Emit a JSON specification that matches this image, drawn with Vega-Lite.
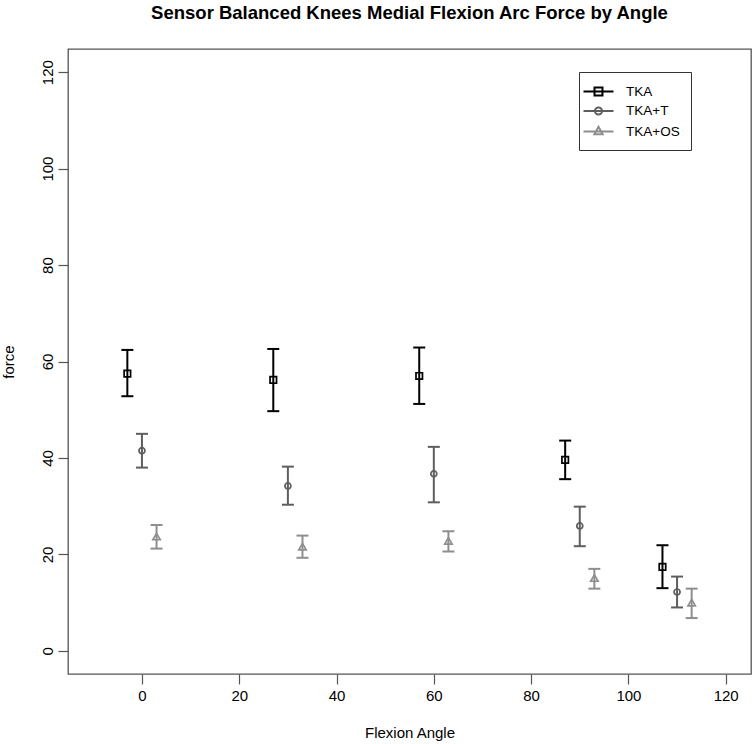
{
  "$schema": "https://vega.github.io/schema/vega-lite/v6.json",
  "width": 683,
  "height": 625,
  "autosize": {"type": "none"},
  "padding": {"left": 68, "top": 49, "right": 2, "bottom": 70},
  "background": "white",
  "title": {
    "text": "Sensor Balanced Knees Medial Flexion Arc Force by Angle",
    "font": "Liberation Sans",
    "fontSize": 18.5,
    "fontWeight": "bold",
    "color": "black",
    "anchor": "middle",
    "offset": 27
  },
  "config": {
    "view": {"stroke": "#555555", "strokeWidth": 1.3},
    "axis": {
      "domain": false,
      "grid": false,
      "tickColor": "#555555",
      "tickSize": 10,
      "tickWidth": 1.2,
      "labelFont": "Liberation Sans",
      "labelFontSize": 15,
      "labelColor": "black",
      "titleFont": "Liberation Sans",
      "titleFontSize": 15,
      "titleFontWeight": "normal",
      "titleColor": "black"
    }
  },
  "data": {
    "values": [
      {"group": "TKA", "angle": -3, "force": 57.5, "lo": 52.8, "hi": 62.4},
      {"group": "TKA", "angle": 27, "force": 56.2, "lo": 49.7, "hi": 62.6},
      {"group": "TKA", "angle": 57, "force": 57.0, "lo": 51.2, "hi": 62.9},
      {"group": "TKA", "angle": 87, "force": 39.6, "lo": 35.6, "hi": 43.6},
      {"group": "TKA", "angle": 107, "force": 17.4, "lo": 13.0, "hi": 21.9},
      {"group": "TKA+T", "angle": 0, "force": 41.5, "lo": 38.0, "hi": 45.0},
      {"group": "TKA+T", "angle": 30, "force": 34.2, "lo": 30.3, "hi": 38.2},
      {"group": "TKA+T", "angle": 60, "force": 36.7, "lo": 30.8, "hi": 42.3},
      {"group": "TKA+T", "angle": 90, "force": 25.9, "lo": 21.7, "hi": 29.9},
      {"group": "TKA+T", "angle": 110, "force": 12.2, "lo": 9.0, "hi": 15.4},
      {"group": "TKA+OS", "angle": 3, "force": 23.7, "lo": 21.2, "hi": 26.1},
      {"group": "TKA+OS", "angle": 33, "force": 21.6, "lo": 19.3, "hi": 23.9},
      {"group": "TKA+OS", "angle": 63, "force": 22.8, "lo": 20.6, "hi": 24.8},
      {"group": "TKA+OS", "angle": 93, "force": 15.1, "lo": 12.9, "hi": 17.0},
      {"group": "TKA+OS", "angle": 113, "force": 10.0, "lo": 6.8, "hi": 12.9}
    ]
  },
  "encoding": {
    "x": {
      "field": "angle",
      "type": "quantitative",
      "scale": {"domain": [-15.2, 125.2], "nice": false, "zero": false},
      "axis": {"values": [0, 20, 40, 60, 80, 100, 120], "title": "Flexion Angle", "labelPadding": 4.5, "titlePadding": 22, "labelFlush": false}
    },
    "stroke": {
      "field": "group",
      "type": "nominal",
      "scale": {"domain": ["TKA", "TKA+T", "TKA+OS"], "range": ["#000000", "#5e5e5e", "#8e8e8e"]},
      "legend": {
        "title": null,
        "orient": "none",
        "legendX": 511,
        "legendY": 23,
        "padding": 11,
        "strokeColor": "#333333",
        "fillColor": "white",
        "labelFont": "Liberation Sans",
        "labelFontSize": 13.5,
        "labelColor": "black",
        "labelOffset": 19,
        "rowPadding": 2.5,
        "symbolSize": 225,
        "symbolStrokeWidth": 2,
        "encode": {
          "symbols": {
            "update": {
              "shape": {"signal": "datum.value === 'TKA' ? 'M-2,0H2M-0.53,-0.53H0.53V0.53H-0.53Z' : datum.value === 'TKA+T' ? 'M-2,0H2M-0.47,0A0.47,0.47,0,1,1,0.47,0A0.47,0.47,0,1,1,-0.47,0' : 'M-2,0H2M0,-0.62L0.55,0.36L-0.55,0.36Z'"},
              "fill": {"value": "transparent"},
              "strokeWidth": {"value": 2},
              "size": {"value": 225},
              "opacity": {"value": 1}
            }
          }
        }
      }
    }
  },
  "layer": [
    {
      "mark": {"type": "rule", "strokeWidth": 2},
      "encoding": {
        "y": {
          "field": "lo",
          "type": "quantitative",
          "scale": {"domain": [-4.8, 124.8], "nice": false, "zero": false},
          "axis": {"values": [0, 20, 40, 60, 80, 100, 120], "title": "force", "labelAngle": 270, "labelAlign": "center", "labelBaseline": "bottom", "labelPadding": 2.5, "titlePadding": 24, "labelFlush": false}
        },
        "y2": {"field": "hi"}
      }
    },
    {
      "mark": {"type": "point", "shape": "M-1,0H1", "size": 144, "filled": false, "strokeWidth": 2, "opacity": 1},
      "encoding": {"y": {"field": "lo", "type": "quantitative"}}
    },
    {
      "mark": {"type": "point", "shape": "M-1,0H1", "size": 144, "filled": false, "strokeWidth": 2, "opacity": 1},
      "encoding": {"y": {"field": "hi", "type": "quantitative"}}
    },
    {
      "transform": [{"filter": "datum.group === 'TKA'"}],
      "mark": {"type": "point", "shape": "square", "size": 42, "filled": false, "strokeWidth": 1.7, "opacity": 1},
      "encoding": {"y": {"field": "force", "type": "quantitative"}}
    },
    {
      "transform": [{"filter": "datum.group === 'TKA+T'"}],
      "mark": {"type": "point", "shape": "circle", "size": 36, "filled": false, "strokeWidth": 1.7, "opacity": 1},
      "encoding": {"y": {"field": "force", "type": "quantitative"}}
    },
    {
      "transform": [{"filter": "datum.group === 'TKA+OS'"}],
      "mark": {"type": "point", "shape": "triangle-up", "size": 55, "filled": false, "strokeWidth": 1.7, "opacity": 1},
      "encoding": {"y": {"field": "force", "type": "quantitative"}}
    }
  ]
}
